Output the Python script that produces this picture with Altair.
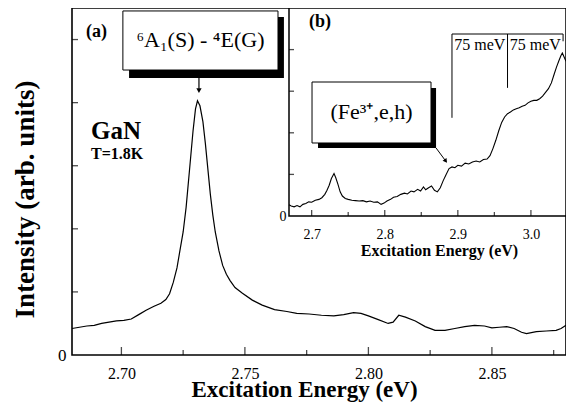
import altair as alt
import pandas as pd

# ---------------- data ----------------
# main spectrum (a)
main_energy = [2.680, 2.683, 2.686, 2.689, 2.692, 2.695, 2.698, 2.701, 2.704, 2.707,
               2.710, 2.713, 2.716, 2.718, 2.7195, 2.721, 2.7225, 2.7235, 2.725, 2.7262,
               2.7275, 2.729, 2.730, 2.7308, 2.7318, 2.733, 2.734, 2.735, 2.736, 2.737,
               2.738, 2.7395, 2.741, 2.7425, 2.744, 2.746, 2.749, 2.753, 2.757, 2.762,
               2.767, 2.771, 2.776, 2.781, 2.786, 2.790, 2.794, 2.797, 2.800, 2.804,
               2.808, 2.810, 2.8123, 2.815, 2.819, 2.823, 2.827, 2.831, 2.835, 2.839,
               2.843, 2.847, 2.850, 2.853, 2.856, 2.859, 2.862, 2.864, 2.868, 2.872,
               2.876, 2.878, 2.880]
main_intensity = [0.42, 0.44, 0.46, 0.47, 0.50, 0.52, 0.54, 0.55, 0.57, 0.64,
                  0.71, 0.77, 0.82, 0.88, 0.97, 1.15, 1.38, 1.61, 1.95, 2.34,
                  2.90, 3.55, 3.90, 4.03, 3.95, 3.70, 3.35, 2.95, 2.55, 2.22,
                  1.95, 1.65, 1.42, 1.28, 1.18, 1.07, 0.98, 0.87, 0.79, 0.72,
                  0.69, 0.66, 0.65, 0.63, 0.62, 0.64, 0.67, 0.66, 0.62, 0.56,
                  0.50, 0.52, 0.63, 0.60, 0.54, 0.45, 0.39, 0.39, 0.42, 0.45,
                  0.47, 0.46, 0.43, 0.44, 0.45, 0.42, 0.36, 0.34, 0.37, 0.38,
                  0.39, 0.42, 0.47]

# inset spectrum (b)
inset_energy = [2.669, 2.672, 2.676, 2.680, 2.684, 2.688, 2.692, 2.696, 2.700, 2.705,
                2.710, 2.714, 2.718, 2.721, 2.724, 2.727, 2.7306, 2.733, 2.736, 2.739,
                2.742, 2.746, 2.750, 2.755, 2.760, 2.765, 2.770, 2.775, 2.780, 2.785,
                2.790, 2.795, 2.799, 2.803, 2.808, 2.812, 2.817, 2.822, 2.827, 2.831,
                2.836, 2.840, 2.845, 2.849, 2.853, 2.856, 2.860, 2.864, 2.868, 2.872,
                2.876, 2.880, 2.884, 2.888, 2.892, 2.896, 2.900, 2.905, 2.910, 2.915,
                2.920, 2.925, 2.930, 2.935, 2.940, 2.944, 2.948, 2.952, 2.956, 2.960,
                2.964, 2.968, 2.972, 2.976, 2.980, 2.984, 2.988, 2.992, 2.996, 3.000,
                3.004, 3.008, 3.012, 3.016, 3.020, 3.024, 3.028, 3.032, 3.035, 3.038,
                3.041, 3.043, 3.046, 3.048]
inset_intensity = [0.27, 0.24, 0.22, 0.25, 0.22, 0.28, 0.30, 0.34, 0.33, 0.38,
                   0.40, 0.44, 0.52, 0.62, 0.74, 0.90, 1.02, 0.92, 0.76, 0.58,
                   0.48, 0.42, 0.40, 0.38, 0.37, 0.36, 0.37, 0.34, 0.36, 0.33,
                   0.34, 0.28, 0.31, 0.36, 0.40, 0.45, 0.47, 0.52, 0.55, 0.53,
                   0.60, 0.58, 0.64, 0.60, 0.70, 0.63, 0.68, 0.72, 0.62, 0.58,
                   0.68, 0.85, 1.00, 1.14, 1.18, 1.16, 1.22, 1.20, 1.27, 1.25,
                   1.30, 1.32, 1.30, 1.36, 1.37, 1.45, 1.62, 1.82, 2.05, 2.25,
                   2.38, 2.46, 2.50, 2.55, 2.58, 2.60, 2.64, 2.66, 2.72, 2.76,
                   2.78, 2.78, 2.82, 2.88, 2.97, 3.06, 3.20, 3.42, 3.58, 3.72,
                   3.85, 3.92, 3.80, 3.72]

# axes
main_x_domain = [2.68, 2.88]
main_y_domain = [0, 5.5]
main_major_ticks = [2.70, 2.75, 2.80, 2.85]
main_minor_ticks = [2.725, 2.775, 2.825, 2.875]
main_y_ticks = [1, 2, 3, 4, 5]

inset_x_domain = [2.669, 3.048]
inset_y_domain = [0, 5]
inset_major_ticks = [2.7, 2.8, 2.9, 3.0]
inset_minor_ticks = [2.75, 2.85, 2.95]
inset_y_ticks = [1, 2, 3, 4]

# annotations
transition_energies = [2.892, 2.968, 3.044]
transition_label = "75 meV"
main_box_label = "\u2076A\u2081(S) - \u2074E(G)"
inset_box_label = "(Fe\u00b3\u207a,e,h)"

# ---------------- layout ----------------
W, H = 494, 347
INSET_LEFT, INSET_BOTTOM = 217, 208
SERIF = "Liberation Serif"


def xs():
    return alt.Scale(domain=main_x_domain, nice=False, zero=False)


def ys():
    return alt.Scale(domain=main_y_domain, nice=False, zero=False)


def ixs():
    return alt.Scale(domain=inset_x_domain, range=[INSET_LEFT, W], nice=False, zero=False)


def iys():
    return alt.Scale(domain=inset_y_domain, range=[INSET_BOTTOM, 0], nice=False, zero=False)


def X(field, sc):
    return alt.X(field, type="quantitative", scale=sc(), axis=None)


def Y(field, sc):
    return alt.Y(field, type="quantitative", scale=sc(), axis=None)


def xticks(values, sc_x, sc_y, y0, size):
    df = pd.DataFrame({"v": values, "b": [y0] * len(values)})
    return alt.Chart(df).mark_tick(orient="vertical", size=size, thickness=1.3,
                                   color="black", yOffset=-size / 2).encode(
        x=X("v", sc_x), y=Y("b", sc_y))


def yticks(values, sc_x, sc_y, x0, size):
    df = pd.DataFrame({"v": values, "b": [x0] * len(values)})
    return alt.Chart(df).mark_tick(orient="horizontal", size=size, thickness=1.3,
                                   color="black", xOffset=size / 2).encode(
        x=X("b", sc_x), y=Y("v", sc_y))


def text(x, y, s, sc_x, sc_y, size, bold=False, align="center"):
    df = pd.DataFrame({"x": [x], "y": [y], "t": [s]})
    return alt.Chart(df).mark_text(font=SERIF, fontSize=size,
                                   fontWeight="bold" if bold else "normal",
                                   align=align, baseline="middle", color="black").encode(
        x=X("x", sc_x), y=Y("y", sc_y), text="t:N")


def box(x0, x1, y0, y1, sc_x, sc_y, fill, stroke=None):
    df = pd.DataFrame({"x0": [x0], "x1": [x1], "y0": [y0], "y1": [y1]})
    kw = dict(fill=fill)
    if stroke:
        kw.update(stroke=stroke, strokeWidth=1)
    return alt.Chart(df).mark_rect(**kw).encode(
        x=X("x0", sc_x), x2="x1", y=Y("y0", sc_y), y2="y1")


def seg(x0, x1, y0, y1, sc_x, sc_y, w=1.2):
    df = pd.DataFrame({"x0": [x0], "x1": [x1], "y0": [y0], "y1": [y1]})
    return alt.Chart(df).mark_rule(color="black", strokeWidth=w).encode(
        x=X("x0", sc_x), x2="x1", y=Y("y0", sc_y), y2="y1")


def head(x, y, sc_x, sc_y, shape, angle=0, size=30):
    df = pd.DataFrame({"x": [x], "y": [y]})
    return alt.Chart(df).mark_point(shape=shape, filled=True, size=size, color="black",
                                    opacity=1, angle=angle).encode(
        x=X("x", sc_x), y=Y("y", sc_y))


# ---------------- main panel ----------------
main_df = pd.DataFrame({"e": main_energy, "i": main_intensity})
main_line = alt.Chart(main_df).mark_line(color="black", strokeWidth=1.2).encode(
    x=alt.X("e:Q", scale=xs(), axis=alt.Axis(
        orient="bottom", values=main_major_ticks, format=".2f", ticks=False, domain=False,
        grid=False, labelFont=SERIF, labelFontSize=16, labelColor="black", labelPadding=10,
        title="Excitation Energy (eV)", titleFont=SERIF, titleFontSize=23,
        titleFontWeight="bold", titleColor="black", titleX=232, titleY=41,
        titleBaseline="alphabetic")),
    y=alt.Y("i:Q", scale=ys(), axis=alt.Axis(
        orient="left", values=[0], ticks=False, domain=False, grid=False,
        labelFont=SERIF, labelFontSize=17, labelColor="black", labelPadding=6,
        title="Intensity (arb. units)", titleFont=SERIF, titleFontSize=27,
        titleFontWeight="bold", titleColor="black", titleX=-47, titleY=191,
        titleBaseline="middle")),
)

# ---------------- inset panel ----------------
inset_df = pd.DataFrame({"e": inset_energy, "i": inset_intensity})
inset_line = alt.Chart(inset_df).mark_line(color="black", strokeWidth=1.1).encode(
    x=alt.X("e:Q", scale=ixs(), axis=alt.Axis(
        orient="bottom", offset=INSET_BOTTOM - H, values=inset_major_ticks, format=".1f",
        ticks=False, domain=False, grid=False, zindex=1,
        labelFont=SERIF, labelFontSize=14, labelColor="black", labelPadding=11,
        title="Excitation Energy (eV)", titleFont=SERIF, titleFontSize=16,
        titleFontWeight="bold", titleColor="black", titleX=367, titleY=39,
        titleBaseline="alphabetic")),
    y=alt.Y("i:Q", scale=iys(), axis=alt.Axis(
        orient="left", offset=-INSET_LEFT, values=[0], ticks=False,
        domain=False, grid=False, zindex=1, labelFont=SERIF, labelFontSize=14,
        labelColor="black", labelPadding=3, title=None)),
)

frame_df = pd.DataFrame({"x0": [inset_x_domain[0]], "x1": [inset_x_domain[1]],
                         "y0": [inset_y_domain[0]], "y1": [inset_y_domain[1]]})
inset_frame = alt.Chart(frame_df).mark_rect(fill="white", stroke="black", strokeWidth=1.5).encode(
    x=X("x0", ixs), x2="x1", y=Y("y0", iys), y2="y1")

bracket_top = 4.375
bracket_ends = [2.36, 3.08, 4.2]

layers = [
    main_line,
    xticks(main_major_ticks, xs, ys, 0, 8),
    xticks(main_minor_ticks, xs, ys, 0, 5),
    yticks(main_y_ticks, xs, ys, main_x_domain[0], 6),
    text(2.6899, 5.12, "(a)", xs, ys, 18, bold=True),
    box(2.7031, 2.7658, 5.357, 4.39, xs, ys, "black"),
    box(2.7006, 2.7634, 5.453, 4.517, xs, ys, "white", "black"),
    text(2.732, 4.99, main_box_label, xs, ys, 22),
    seg(2.7314, 2.7314, 4.39, 4.22, xs, ys),
    head(2.7314, 4.19, xs, ys, "triangle-down", size=28),
    text(2.6877, 3.55, "GaN", xs, ys, 25, bold=True, align="left"),
    text(2.6877, 3.18, "T=1.8K", xs, ys, 16, bold=True, align="left"),
    inset_frame,
    inset_line,
    xticks(inset_major_ticks, ixs, iys, 0, 6),
    xticks(inset_minor_ticks, ixs, iys, 0, 4),
    yticks(inset_y_ticks, ixs, iys, inset_x_domain[0], 5),
    text(2.7114, 4.66, "(b)", ixs, iys, 18, bold=True),
    seg(transition_energies[0], transition_energies[2], bracket_top, bracket_top, ixs, iys, 1),
    seg(transition_energies[0], transition_energies[0], bracket_top, bracket_ends[0], ixs, iys, 1),
    seg(transition_energies[1], transition_energies[1], bracket_top, bracket_ends[1], ixs, iys, 1),
    seg(transition_energies[2], transition_energies[2], bracket_top, bracket_ends[2], ixs, iys, 1),
    text((transition_energies[0] + transition_energies[1]) / 2, 4.1, transition_label, ixs, iys, 16),
    text((transition_energies[1] + transition_energies[2]) / 2, 4.1, transition_label, ixs, iys, 16),
    box(2.7087, 2.8702, 3.077, 1.635, ixs, iys, "black"),
    box(2.7005, 2.8633, 3.221, 1.755, ixs, iys, "white", "black"),
    text(2.7819, 2.49, inset_box_label, ixs, iys, 22),
    seg(2.8702, 2.8835, 1.635, 1.32, ixs, iys, 1),
    head(2.8835, 1.32, ixs, iys, "triangle-right", angle=54, size=24),
]

chart = alt.layer(*layers).resolve_scale(
    x="independent", y="independent"
).properties(
    width=W, height=H,
    padding={"left": 64, "top": 0, "right": 0, "bottom": 47},
    autosize=alt.AutoSizeParams(type="none"),
    background="white",
).configure_view(stroke="black", strokeWidth=1.6)

chart.save("out.html", embed_options={"renderer": "svg", "actions": False, "defaultStyle": False})
